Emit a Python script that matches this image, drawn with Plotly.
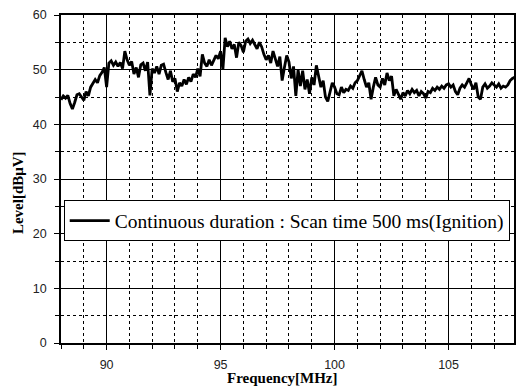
import numpy as np
import plotly.graph_objects as go

freq_start = 88.0
freq_step = 0.1
level = [
    44.5, 45.2, 44.8, 45.3, 43.8, 42.8, 44.0, 45.4, 45.6, 45.0,
    44.4, 46.0, 45.2, 46.8, 47.5, 48.2, 47.6, 48.9, 49.5, 50.4,
    46.8, 51.2, 51.6, 50.8, 51.4, 50.6, 51.3, 50.2, 53.4, 51.8,
    50.8, 51.5, 49.2, 50.4, 48.6, 50.9, 51.2, 49.8, 51.4, 45.3,
    50.2, 49.4, 50.6, 49.2, 50.8, 51.0, 49.5, 48.2, 49.8, 47.8,
    48.4, 46.0, 47.6, 47.0, 48.2, 47.3, 48.6, 47.8, 49.2, 48.6,
    50.2, 48.8, 52.8, 51.2, 50.6, 51.8, 50.8, 51.6, 52.6, 52.0,
    53.4, 50.0, 55.8, 54.2, 55.2, 53.8, 54.6, 52.2, 55.0, 54.4,
    53.2, 55.2, 55.6, 54.8, 55.4, 54.6, 53.8, 55.0, 54.2, 52.8,
    51.8, 52.6, 51.2, 53.4, 52.2, 50.6, 52.4, 48.0, 50.4, 52.6,
    51.4, 48.4, 50.6, 45.2, 50.0, 47.0, 49.8, 46.4, 48.2, 45.6,
    48.6, 47.2, 50.8, 48.6, 46.8, 48.0, 45.0, 44.2, 46.0, 47.6,
    46.8, 45.6, 45.4, 46.8, 45.8, 46.4, 46.2, 47.0, 46.6, 47.6,
    48.0, 48.8, 49.8, 48.2, 46.8, 47.6, 44.6, 46.8, 48.6, 47.2,
    46.8, 48.4, 47.2, 49.4, 48.0, 48.8, 45.2, 46.4, 45.6, 44.6,
    45.8, 45.2, 46.2, 45.6, 46.4, 45.8, 46.2, 45.2, 46.0, 45.6,
    44.8, 46.0, 45.8, 46.6, 46.2, 46.8, 46.4, 47.0, 46.6, 47.2,
    47.4, 46.8, 47.2, 46.0, 45.4, 46.6, 47.2, 46.8, 47.6, 48.4,
    47.2, 46.4, 47.6, 45.0, 44.6, 46.8, 47.4, 46.6, 47.0, 47.6,
    47.2, 46.8, 47.4, 46.6, 47.0, 46.8, 47.2, 48.0, 48.4, 48.6,
]
freq = [round(freq_start + i * freq_step, 1) for i in range(len(level))]

series_name = "Continuous duration : Scan time 500 ms(Ignition)"
x_title = "Frequency[MHz]"
y_title = "Level[dB\u03bcV]"
x_ticks = [90, 95, 100, 105]
y_ticks = [0, 10, 20, 30, 40, 50, 60]

fig = go.Figure()
fig.add_trace(go.Scatter(x=freq, y=level, mode="lines", name=series_name,
                         line=dict(color="black", width=2.8)))

axis_common = dict(
    showline=True, linecolor="black", linewidth=1.5, mirror=True,
    showgrid=True, gridcolor="black", gridwidth=1,
    ticks="outside", ticklen=5, tickcolor="black", tickwidth=1,
    tickfont=dict(family="Liberation Sans", size=12.5, color="#222"),
    zeroline=False,
)
fig.update_xaxes(**axis_common, range=[88, 107.87], tickvals=x_ticks,
                 minor=dict(dtick=1, tick0=88, showgrid=True, gridcolor="black",
                            griddash="dot", gridwidth=1, ticks="outside", ticklen=4,
                            tickcolor="black"),
                 ticklabelstandoff=4)
fig.update_yaxes(**axis_common, range=[0, 60], tickvals=y_ticks,
                 minor=dict(dtick=5, tick0=0, showgrid=True, gridcolor="black",
                            griddash="dot", gridwidth=1, ticks="outside", ticklen=4,
                            tickcolor="black"),
                 ticklabelstandoff=5)

fig.add_annotation(text="<b>" + x_title + "</b>", xref="paper", yref="paper",
                   x=0.49, y=-0.107, yanchor="middle", showarrow=False,
                   font=dict(family="Liberation Serif", size=15, color="black"))
fig.add_annotation(text="<b>" + y_title + "</b>", xref="paper", yref="paper",
                   x=-0.095, y=0.46, xanchor="center", yanchor="middle",
                   textangle=-90, showarrow=False,
                   font=dict(family="Liberation Serif", size=15, color="black"))

fig.update_layout(
    width=516, height=390,
    margin=dict(l=61, r=0, t=15, b=47),
    plot_bgcolor="white", paper_bgcolor="white",
    showlegend=True,
    legend=dict(x=0.006, y=0.372, xanchor="left", yanchor="middle",
                bordercolor="black", borderwidth=1, bgcolor="white",
                font=dict(family="Liberation Serif", size=19.5, color="black"),
                itemwidth=40, tracegroupgap=0),
)
fig.write_html("out.html")
